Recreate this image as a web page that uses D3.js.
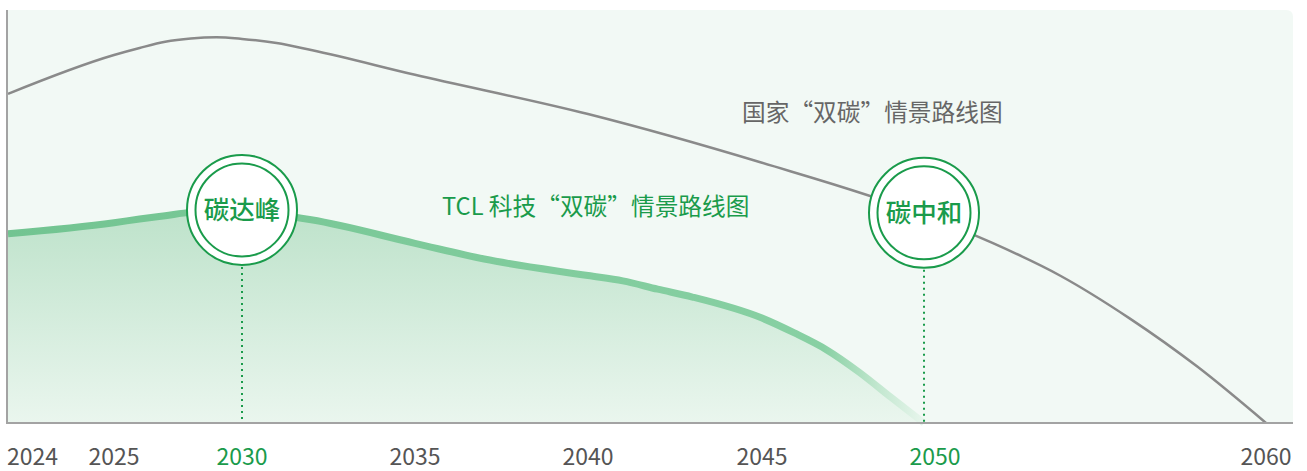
<!DOCTYPE html>
<html lang="zh">
  <head>
    <meta charset="UTF-8" />
    <title>双碳情景路线图</title>
    <style>
      body {
        margin: 0;
        background: #fff;
        font-family: "Noto Sans CJK SC", "Noto Sans", sans-serif;
      }
      #chart {
        width: 1307px;
        height: 471px;
      }
    </style>
  </head>
  <body>
    <div id="chart"></div>

    <script src="https://d3js.org/d3.v7.min.js"></script>
    <script>
      // years on the axis (the spacing is not linear in the original)
      const tickYears = [2024, 2025, 2030, 2035, 2040, 2045, 2050, 2060];
      const milestoneYears = [2030, 2050];
      const milestoneLabels = ["碳达峰", "碳中和"];

      // 国家“双碳”情景 (emission index, 0-100)
      const nationalYears = [2024, 2025, 2026, 2027, 2028, 2029, 2030, 2031, 2032, 2035, 2040, 2045, 2050, 2052, 2054, 2056, 2058, 2060];
      const nationalValues = [79.7, 89.1, 90.8, 92.3, 93.1, 93.4, 93.0, 92.0, 90.3, 84.3, 74.8, 63.0, 50.4, 43.6, 35.6, 25.4, 13.6, 0];

      // TCL 科技“双碳”情景
      const tclYears = [2024, 2025, 2026, 2027, 2028, 2029, 2030, 2031, 2032, 2035, 2037, 2040, 2041, 2042, 2043, 2045, 2046, 2047, 2048, 2049, 2050];
      const tclValues = [45.8, 48.5, 49.4, 50.2, 51.0, 51.2, 51.1, 50.4, 49.2, 43.5, 39.7, 35.7, 34.4, 32.4, 30.5, 25.4, 21.8, 17.7, 12.3, 6.1, 0];

      const nationalLabel = "国家“双碳”情景路线图";
      const tclLabel = "TCL 科技“双碳”情景路线图";

      const width = 1307,
        height = 471;
      const green = "#1a9b4b";

      const svg = d3
        .select("#chart")
        .append("svg")
        .attr("width", width)
        .attr("height", height);

      const x = d3
        .scaleLinear()
        .domain(tickYears)
        .range([8, 114, 242, 415, 588, 762, 924, 1266]);
      const y = d3.scaleLinear().domain([0, 100]).range([423, 10]);

      const defs = svg.append("defs");

      const areaGrad = defs
        .append("linearGradient")
        .attr("id", "areaGrad")
        .attr("gradientUnits", "userSpaceOnUse")
        .attr("x1", 0).attr("y1", y(52))
        .attr("x2", 0).attr("y2", y(0));
      areaGrad.append("stop").attr("offset", 0).attr("stop-color", "#bde2ca");
      areaGrad.append("stop").attr("offset", 1).attr("stop-color", "#eaf6ee");

      const lineGrad = defs
        .append("linearGradient")
        .attr("id", "lineGrad")
        .attr("gradientUnits", "userSpaceOnUse")
        .attr("x1", x(2024)).attr("y1", 0)
        .attr("x2", x(2050)).attr("y2", 0);
      lineGrad.append("stop").attr("offset", 0).attr("stop-color", "#72c491");
      lineGrad.append("stop").attr("offset", 0.89).attr("stop-color", "#88d0a3");
      lineGrad.append("stop").attr("offset", 0.95).attr("stop-color", "#c2e7cf");
      lineGrad.append("stop").attr("offset", 1).attr("stop-color", "#e8f6ed");

      // background panel, rounded at the top right
      const px0 = 8, px1 = 1293, py0 = 10, py1 = 424, r = 7;
      svg
        .append("path")
        .attr("d", `M${px0},${py0} H${px1 - r} Q${px1},${py0} ${px1},${py0 + r} V${py1} H${px0} Z`)
        .attr("fill", "#f2f9f5");

      const tcl = tclYears.map((yr, i) => ({ year: yr, value: tclValues[i] }));
      const national = nationalYears.map((yr, i) => ({ year: yr, value: nationalValues[i] }));

      // TCL area
      svg
        .append("path")
        .datum(tcl)
        .attr("fill", "url(#areaGrad)")
        .attr(
          "d",
          d3.area()
            .curve(d3.curveMonotoneX)
            .x((d) => x(d.year))
            .y0(y(0))
            .y1((d) => y(d.value))
        );

      const line = d3
        .line()
        .curve(d3.curveMonotoneX)
        .x((d) => x(d.year))
        .y((d) => y(d.value));

      // national line
      svg
        .append("path")
        .datum(national)
        .attr("fill", "none")
        .attr("stroke", "#8a8a8a")
        .attr("stroke-width", 2.5)
        .attr("d", line);

      // TCL line
      svg
        .append("path")
        .datum(tcl)
        .attr("fill", "none")
        .attr("stroke", "url(#lineGrad)")
        .attr("stroke-width", 7)
        .attr("stroke-linecap", "butt")
        .attr("d", line);

      // axes lines
      svg
        .append("line")
        .attr("x1", 7).attr("x2", 7)
        .attr("y1", py0).attr("y2", y(0) + 1)
        .attr("stroke", "#a3a3a3")
        .attr("stroke-width", 2);
      svg
        .append("line")
        .attr("x1", 6).attr("x2", px1)
        .attr("y1", y(0)).attr("y2", y(0))
        .attr("stroke", "#a3a3a3")
        .attr("stroke-width", 2);

      // milestones
      const milestones = milestoneYears.map((yr, i) => {
        const src = yr === 2030 ? tcl : national;
        const p = src.find((d) => d.year === yr);
        return { year: yr, label: milestoneLabels[i], value: p.value };
      });

      const ms = svg
        .selectAll(".milestone")
        .data(milestones)
        .enter()
        .append("g")
        .attr("class", "milestone")
        .attr("transform", (d) => `translate(${x(d.year)},${y(d.value) - 2})`);

      ms.append("line")
        .attr("x1", 0).attr("x2", 0)
        .attr("y1", 57)
        .attr("y2", (d) => y(0) - y(d.value) + 2)
        .attr("stroke", green)
        .attr("stroke-width", 2)
        .attr("stroke-dasharray", "2,4");

      ms.append("circle")
        .attr("r", 55)
        .attr("fill", "#fff")
        .attr("stroke", green)
        .attr("stroke-width", 2);
      ms.append("circle")
        .attr("r", 46.5)
        .attr("fill", "#fff")
        .attr("stroke", green)
        .attr("stroke-width", 2);
      ms.append("text")
        .attr("text-anchor", "middle")
        .attr("dy", "0.35em")
        .attr("fill", green)
        .style("font-size", "25.5px")
        .style("font-weight", 500)
        .text((d) => d.label);

      // series labels
      svg
        .append("text")
        .attr("x", 742)
        .attr("y", 121)
        .attr("fill", "#666")
        .style("font-size", "23.7px")
        .text(nationalLabel);
      svg
        .append("text")
        .attr("x", 442)
        .attr("y", 215)
        .attr("fill", green)
        .style("font-size", "23.7px")
        .text(tclLabel);

      // x tick labels
      svg
        .selectAll(".tick-label")
        .data(tickYears)
        .enter()
        .append("text")
        .attr("class", "tick-label")
        .attr("x", (d) => x(d))
        .attr("dx", (d) => (d === 2050 ? 11 : d === 2024 ? -1 : 0))
        .attr("y", 465)
        .attr("text-anchor", (d) => (d === 2024 ? "start" : "middle"))
        .attr("fill", (d) => (milestoneYears.includes(d) ? green : "#555"))
        .style("font-size", "23px")
        .text((d) => d);
    </script>
  </body>
</html>
